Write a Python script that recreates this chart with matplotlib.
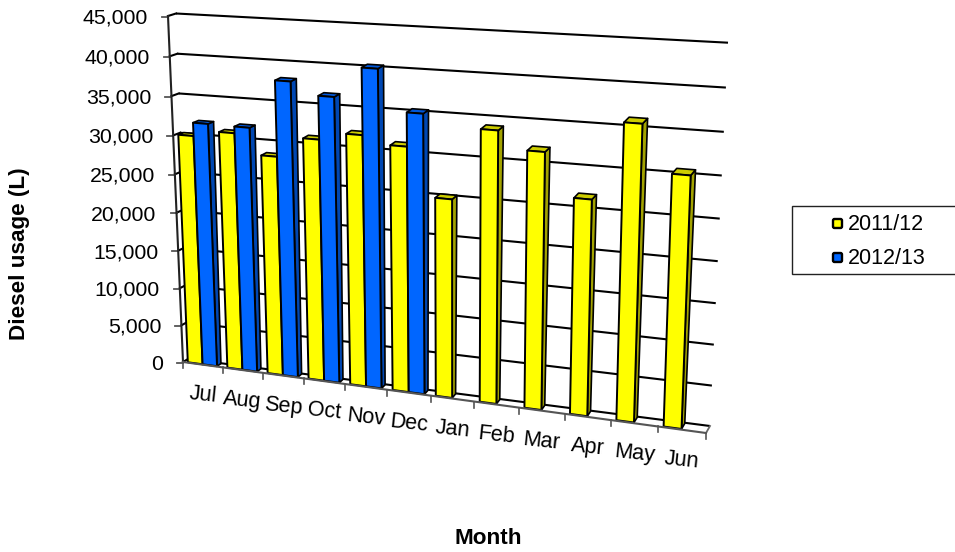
import numpy as np
import matplotlib
matplotlib.use('Agg')
import matplotlib.pyplot as plt
from matplotlib.patches import Polygon, Rectangle, FancyBboxPatch
from matplotlib.transforms import Transform, Affine2D

plt.rcParams['font.family'] = ['Liberation Sans', 'DejaVu Sans']

months = ['Jul', 'Aug', 'Sep', 'Oct', 'Nov', 'Dec', 'Jan', 'Feb', 'Mar', 'Apr', 'May', 'Jun']
usage_2011 = [30100, 30900, 28400, 31000, 32000, 31050, 25100, 33900, 31800, 26650, 36000, 30500]
usage_2012 = [31800, 31750, 37900, 36400, 40200, 35200]
value_ticks = [0, 5000, 10000, 15000, 20000, 25000, 30000, 35000, 40000, 45000]
series_names = ['2011/12', '2012/13']

VMAX = 45000
NCAT = len(months)

# where the box corners land on the page: (u, v) -> pixel
FRONT = [(183, 362), (168, 16), (706, 433), (721, 50)]
BACK = [(188, 359), (176, 13.5), (710, 426), (728, 42.7)]

YELLOW = ('#FFFF00', '#CCCC00', '#A3A300')
BLUE = ('#0066FF', '#0057D9', '#0047B2')


def homography(corners):
    src = [(0, 0), (0, VMAX), (NCAT, 0), (NCAT, VMAX)]
    a = []
    b = []
    for (u, v), (x, y) in zip(src, corners):
        a.append([u, v, 1, 0, 0, 0, -u * x, -v * x])
        a.append([0, 0, 0, u, v, 1, -u * y, -v * y])
        b += [x, y]
    h = np.linalg.solve(np.array(a, float), np.array(b, float))
    return np.append(h, 1).reshape(3, 3)


H_FRONT = homography(FRONT)
H_BACK = homography(BACK)


class BoxPlane(Transform):
    # category/value -> pixel on a plane at some depth in the 3d box
    input_dims = 2
    output_dims = 2

    def __init__(self, w):
        super().__init__()
        self.w = w

    def transform_non_affine(self, values):
        values = np.asarray(values, float)
        pts = np.column_stack([values, np.ones(len(values))])
        f = pts @ H_FRONT.T
        b = pts @ H_BACK.T
        f = f[:, :2] / f[:, 2:]
        b = b[:, :2] / b[:, 2:]
        return f * (1 - self.w) + b * self.w


fig = plt.figure(figsize=(9.55, 5.52), dpi=100)
ax = fig.add_axes([0, 0, 1, 1])
ax.set_xlim(0, 955)
ax.set_ylim(552, 0)
ax.axis('off')


def plane(w, dx=0, dy=0):
    return BoxPlane(w) + Affine2D().translate(dx, dy) + ax.transData


# back wall + left wall
for v in value_ticks:
    ax.plot([0, NCAT], [v, v], color='black', lw=1.5, transform=plane(1), zorder=1,
            solid_capstyle='butt')
    p0 = BoxPlane(0).transform([[0, v]])[0]
    p1 = BoxPlane(1).transform([[0, v]])[0]
    ax.plot([p0[0], p1[0]], [p0[1], p1[1]], color='black', lw=1.5, zorder=1)
    ax.text(0, v, f'{v:,}', transform=plane(0, -20, 2), ha='right', va='center',
            fontsize=15.3, color='black')

# ticks on the value axis
for v in value_ticks:
    pt = BoxPlane(0).transform([[0, v]])[0]
    ax.plot([pt[0] - 6, pt[0]], [pt[1] + 0.5, pt[1] + 0.5], color='#555555', lw=1.3, zorder=2)

# right edge of the floor
pr0 = BoxPlane(0).transform([[NCAT, 0]])[0]
pr1 = BoxPlane(1).transform([[NCAT, 0]])[0]
ax.plot([pr0[0], pr1[0]], [pr0[1], pr1[1]], color='#666666', lw=1.3, zorder=1)


def draw_bar(i, value, u0, u1, colors):
    d0, d1 = 0.1, 0.9
    u0 += i
    u1 += i
    front, top, side = colors
    tf0 = BoxPlane(d0)
    tf1 = BoxPlane(d1)
    fl0, fl1, fr0, fr1 = tf0.transform([[u0, 0], [u0, value], [u1, 0], [u1, value]])
    bl1, br0, br1 = tf1.transform([[u0, value], [u1, 0], [u1, value]])
    ax.add_patch(Polygon([fr0, fr1, br1, br0], closed=True, fc=side, ec='black', lw=1.2,
                         zorder=3, joinstyle='round'))
    ax.add_patch(Polygon([fl1, fr1, br1, bl1], closed=True, fc=top, ec='black', lw=1.2,
                         zorder=3, joinstyle='round'))
    ax.add_patch(Polygon([fl0, fl1, fr1, fr0], closed=True, fc=front, ec='black', lw=1.4,
                         zorder=3, joinstyle='round'))


U_LEFT, U_MID, U_RIGHT = 0.11, 0.485, 0.85
for i in range(NCAT):
    draw_bar(i, usage_2011[i], U_LEFT, U_MID, YELLOW)
    if i < len(usage_2012):
        draw_bar(i, usage_2012[i], U_MID, U_RIGHT, BLUE)

# front axes on top of everything
ax.plot([0, 0], [0, VMAX], color='#222222', lw=1.5, transform=plane(0), zorder=4)
ax.plot([0, NCAT], [0, 0], color='#555555', lw=1.5, transform=plane(0), zorder=4)
for i in range(NCAT + 1):
    pt = BoxPlane(0).transform([[i, 0]])[0]
    ax.plot([pt[0], pt[0]], [pt[1], pt[1] + 6], color='#555555', lw=1.2, zorder=4)

for i, m in enumerate(months):
    ax.text(i + 0.5, 0, m, transform=plane(0, 0, 30.5), ha='center', va='center',
            fontsize=15.6, rotation=-6, rotation_mode='anchor', color='black')

ax.text(488, 539, 'Month', ha='center', va='center', fontsize=16.2, fontweight='bold')
ax.text(20, 254, 'Diesel usage (L)', ha='center', va='center', rotation=90,
        fontsize=16.2, fontweight='bold')

# legend
ax.add_patch(Rectangle((791.5, 206), 170, 68, fc='white', ec='#222222', lw=1.0, zorder=5))
for name, color, yc in zip(series_names, [YELLOW[0], BLUE[0]], [223.5, 257.5]):
    ax.add_patch(FancyBboxPatch((833, yc - 4.5), 9, 9, boxstyle='round,pad=0,rounding_size=1.5',
                                fc=color, ec='black', lw=1.7, zorder=6))
    ax.text(848, yc + 1, name, ha='left', va='center', fontsize=15.5, zorder=6)

fig.savefig('out.png', dpi=100)
